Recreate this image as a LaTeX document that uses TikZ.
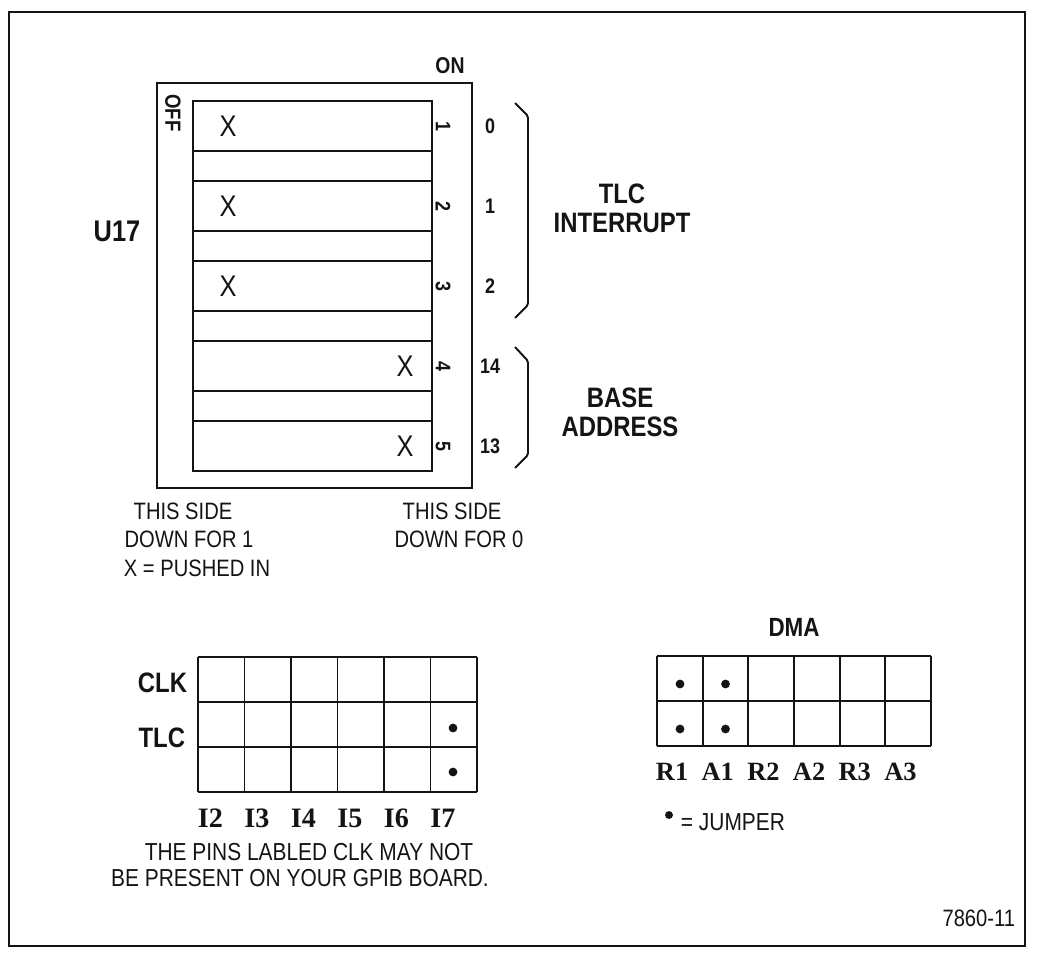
\documentclass[tikz,border=0pt]{standalone}
\usepackage{fontspec}
\setmainfont{Liberation Sans}[FakeStretch=0.85]
\newfontfamily\pinfont{Liberation Serif}
\usepackage{xcolor}
\usetikzlibrary{positioning}
\definecolor{Ink}{HTML}{141414}

\begin{document}
\begin{tikzpicture}[x=0.02cm, y=-0.02cm, line width=1.1pt, draw=Ink, text=Ink,
    title/.style={font=\bfseries\fontsize{16}{16.5}\selectfont, align=center, inner sep=0pt},
    note/.style={font=\fontsize{13.5}{16}\selectfont, align=center, inner sep=0pt},
    swnum/.style={font=\bfseries\fontsize{12}{14}\selectfont, rotate=-90, inner sep=0pt},
    value/.style={font=\bfseries\fontsize{12}{14}\selectfont, inner sep=0pt},
    pushed/.style={font=\fontsize{17}{18}\selectfont, inner sep=0pt},
    pinname/.style={font=\pinfont\bfseries\fontsize{16}{18}\selectfont, anchor=west, inner sep=0pt},
    jumper/.style={circle, fill=Ink, inner sep=0pt, minimum size=5pt}]
    \useasboundingbox (0,0) rectangle (1041,956);

    % Frame
    \draw[line width=1.4pt] (9,12) rectangle (1025,946);

    % DIP switch U17
    \draw (157,83) rectangle (472,488);
    \draw (193,101) rectangle (432,471);
    \foreach \i in {1,...,4} {
        \draw (193,101+80*\i-30) -- (432,101+80*\i-30);
        \draw (193,101+80*\i) -- (432,101+80*\i);
    }
    \node[title, font=\bfseries\fontsize{17}{18}\selectfont] (u17) at (117,231) {U17};
    \node[value, font=\bfseries\fontsize{13}{14}\selectfont] (on) at (450,66) {ON};
    \node[swnum, font=\bfseries\fontsize{12.5}{14}\selectfont] (off) at (173,113) {OFF};

    % Switch positions
    \foreach \i/\xx/\v in {1/228/0, 2/228/1, 3/228/2, 4/405/14, 5/405/13} {
        \node[pushed] (x\i) at (\xx,126+80*\i-80) {X};
        \node[swnum] (n\i) at (443,126+80*\i-80) {\i};
        \node[value] (v\i) at (490,126+80*\i-80) {\v};
    }

    % Brackets
    \draw[rounded corners=1pt] (515,103) -- (528,116) -- (528,305) -- (515,318);
    \draw[rounded corners=1pt] (515,347) -- (528,361) -- (528,455) -- (515,468);
    \node[title] (tlcint) at (622,208) {TLC\\INTERRUPT};
    \node[title] (base) at (620,412) {BASE\\ADDRESS};

    % Side notes
    \node[note] (side1) at (183,511) {THIS SIDE};
    \node[note] (down1) at (189,539) {DOWN FOR 1};
    \node[note] (push) at (197,568) {X = PUSHED IN};
    \node[note] (side0) at (452,511) {THIS SIDE};
    \node[note] (down0) at (459,539) {DOWN FOR 0};

    % Interrupt jumper block
    \foreach \c in {0,...,6}
        \draw (198+46.5*\c,657) -- (198+46.5*\c,792);
    \foreach \r in {0,...,3}
        \draw (198,657+45*\r) -- (477,657+45*\r);
    \foreach \c in {0,...,5} {
        \pgfmathtruncatemacro{\n}{\c+2}
        \node[pinname] (i\n) at (197+46.5*\c,818) {I\n};
    }
    \node[title, anchor=east] (clk) at (188,683) {CLK};
    \node[title, anchor=east] (tlc) at (186,738) {TLC};
    \node[jumper] (j1) at (453,728) {};
    \node[jumper] (j2) at (453,772) {};
    \node[note, font=\fontsize{14}{16}\selectfont] (warn1) at (309,852) {THE PINS LABLED CLK MAY NOT};
    \node[note, font=\fontsize{14}{16}\selectfont] (warn2) at (300,878) {BE PRESENT ON YOUR GPIB BOARD.};

    % DMA jumper block
    \foreach \c in {0,...,6}
        \draw (657+45.67*\c,656) -- (657+45.67*\c,746);
    \foreach \r in {0,...,2}
        \draw (657,656+45*\r) -- (931,656+45*\r);
    \node[title, font=\bfseries\fontsize{15}{16}\selectfont] (dma) at (794,627) {DMA};
    \foreach \c/\p in {0/R1, 1/A1, 2/R2, 3/A2, 4/R3, 5/A3}
        \node[pinname, font=\pinfont\bfseries\fontsize{15}{18}\selectfont] (\p) at (655+45.67*\c,772) {\p};
    \foreach \c in {0,1}
        \foreach \r in {0,1}
            \node[jumper] (d\c\r) at (680+45.5*\c,684+45*\r) {};
    \node[jumper, minimum size=4.5pt] (key) at (669,815) {};
    \node[note, anchor=west, font=\fontsize{14}{16}\selectfont] (keytext) at (680,822) {= JUMPER};

    \node[note, anchor=east] (fig) at (1016,918) {7860-11};
\end{tikzpicture}
\end{document}
